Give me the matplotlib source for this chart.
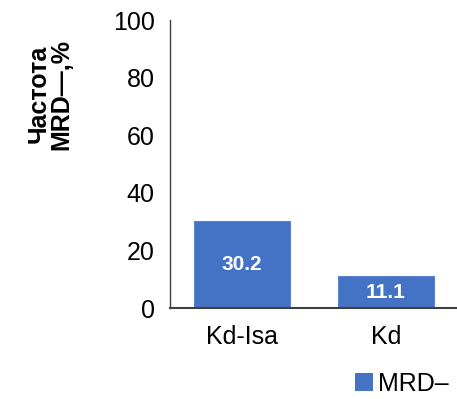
import matplotlib
matplotlib.use("Agg")
import matplotlib.pyplot as plt
from matplotlib.patches import Patch

categories = ["Kd-Isa", "Kd"]
values = [30.2, 11.1]
series_name = "MRD–"
yticks = [0, 20, 40, 60, 80, 100]
ylabel = "Частота\nMRD—,%"

plt.rcParams['font.family'] = ['Liberation Sans', 'DejaVu Sans']

fig = plt.figure(figsize=(4.57, 3.99), dpi=100)
ax = fig.add_axes([170/457, 1-308/399, 288/457, 288/399])
color = "#4472C4"
x = list(range(len(categories)))
bars = ax.bar(x, values, width=0.66, color=color, edgecolor="#5B84CC", linewidth=0.8)
for b, v in zip(bars, values):
    ax.text(b.get_x() + b.get_width()/2, v/2, f"{v:.1f}", ha="center", va="center",
            color="white", fontweight="bold", fontsize=15)
ax.set_xlim(-0.5, 1.5)
ax.set_ylim(0, 100)
ax.set_yticks(yticks)
ax.set_xticks(x)
ax.set_xticklabels(categories)
ax.tick_params(axis="both", length=0, labelsize=18, colors="black")
ax.tick_params(axis="y", pad=11)
ax.tick_params(axis="x", pad=12)
for s in ["top", "right"]:
    ax.spines[s].set_visible(False)
ax.spines["left"].set_color("#404040")
ax.spines["bottom"].set_color("#404040")
ax.spines["left"].set_linewidth(1.0)
ax.spines["bottom"].set_linewidth(1.5)

fig.text(50/457, 1-94/399, ylabel, rotation=90, ha="center", va="center",
         fontweight="bold", fontsize=18, multialignment="center", linespacing=0.95)

fig.legend(handles=[Patch(facecolor=color, label=series_name)], loc="lower right",
           bbox_to_anchor=(449/457, 0.008), frameon=False, fontsize=18,
           handlelength=0.75, handleheight=0.75, handletextpad=0.2, borderaxespad=0.0,
           borderpad=0.0)

fig.savefig("out.png", dpi=100)
